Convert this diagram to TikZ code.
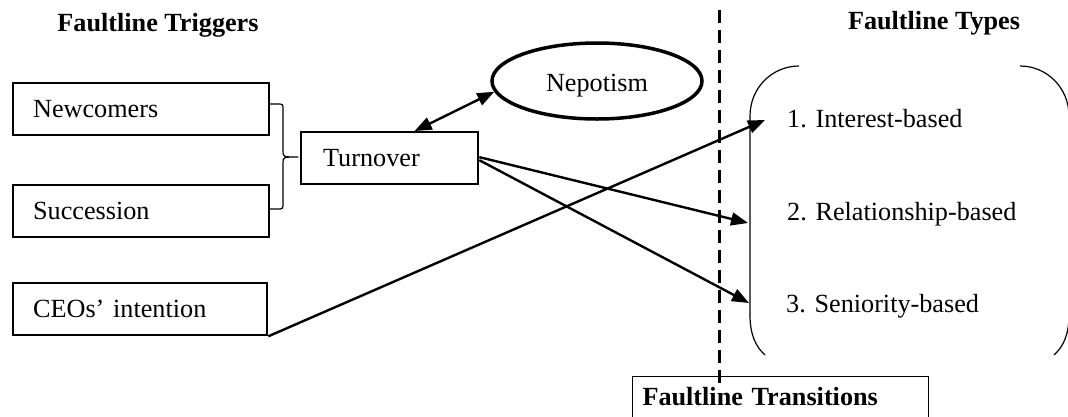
\documentclass[tikz,border=0pt]{standalone}
\usepackage{fontspec}
\setmainfont{Liberation Serif}
\usetikzlibrary{arrows.meta,shapes.geometric,calc}
\begin{document}
\begin{tikzpicture}[x=1pt,y=-1pt,
  font=\fontsize{26.2}{30}\selectfont,
  trigbox/.style={draw,line width=2.3pt,anchor=north west,minimum height=52pt,
    inner xsep=20pt,inner ysep=0pt,align=left},
  title/.style={font=\fontsize{26.2}{30}\selectfont\bfseries,anchor=base,inner sep=0pt},
  typeitem/.style={anchor=base west,inner sep=0pt},
  conn/.style={line width=2.4pt,-{Triangle[length=17pt,width=13pt]}},
  bracket/.style={line width=1.2pt},
  faultline/.style={line width=3pt,dash pattern=on 13pt off 7pt}
]
\clip (0,0) rectangle (1068,416);

% headings
\node[title] (trigtitle) at (158,31) {Faultline Triggers};
\node[title] (typetitle) at (934,29) {Faultline Types};

% trigger boxes
\node[trigbox,text width=216pt] (newcomers) at (12,82) {Newcomers};
\node[trigbox,text width=216pt] (succession) at (12,184) {Succession};
\node[trigbox,text width=214pt] (ceo) at (12,282) {CEOs’ intention};
\node[trigbox,text width=133pt,inner xsep=22pt] (turnover) at (300,131) {Turnover};

% right curly brace grouping newcomers and succession
\draw[bracket,line join=round] (268,104) -- (277,104) .. controls (283,104) .. (283,110)
  -- (283,151) .. controls (283,157) .. (298,157)
  .. controls (283,157) .. (283,163) -- (283,203)
  .. controls (283,209) .. (277,209) -- (268,209);

% nepotism
\node[ellipse,draw,line width=3.5pt,minimum width=210pt,minimum height=76pt,inner sep=0pt,
  text height=20pt,text depth=0pt] (nepotism) at (597,81) {Nepotism};

% faultline types in a bracket pair
\draw[bracket] (799,66) .. controls (772,66) and (750,88) .. (750,116) -- (750,315)
  .. controls (750,335) and (756,347) .. (765,355);
\draw[bracket] (1020,66) .. controls (1047,66) and (1069,88) .. (1069,116) -- (1069,315)
  .. controls (1069,335) and (1063,347) .. (1054,355);
\node[typeitem] (interest) at (787,127) {1. Interest-based};
\node[typeitem] (relation) at (787,220) {2. Relationship-based};
\node[typeitem] (seniority) at (786,312) {3. Seniority-based};

% transitions box (its lower edge runs past the picture) and the dashed divide
\node[draw,line width=1pt,anchor=north west,minimum width=296pt,minimum height=42pt,
  inner xsep=10pt,inner ysep=0pt,text width=276pt,align=left,
  text height=16pt,text depth=0pt,
  font=\fontsize{26.2}{30}\selectfont\bfseries] (transitions) at (632,376) {Faultline Transitions};
\coordinate (dtop) at (719,10);
\coordinate (dbot) at (719,383);
\draw[faultline] (dtop) -- (dbot);

% connectors
\coordinate (tint) at (765,120);
\coordinate (trel) at (748,223);
\coordinate (tsen) at (749,303);
\draw[line width=2.4pt,{Triangle[length=17pt,width=13pt]}-{Triangle[length=17pt,width=13pt]}]
  ($(turnover.north)+(25,0)$) -- (nepotism.186);
\draw[conn] (ceo.south east) -- (tint);
\draw[conn] ($(turnover.east)+(0,-1)$) -- (trel);
\draw[conn] ($(turnover.east)+(0,2)$) -- (tsen);
\end{tikzpicture}
\end{document}
